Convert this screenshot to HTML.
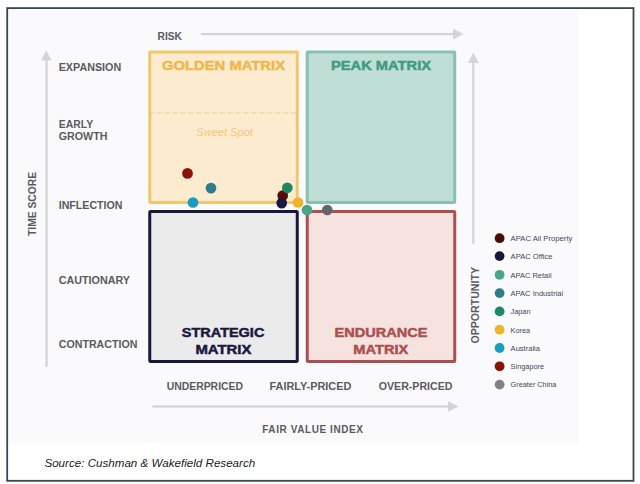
<!DOCTYPE html>
<html lang="en">
<head>
<meta charset="utf-8">
<title>Fair Value Index Matrix</title>
<style>
html,body{margin:0;padding:0;background:#fff;}
body{width:640px;height:484px;overflow:hidden;position:relative;font-family:"Liberation Sans",sans-serif;}
svg{position:absolute;left:0;top:0;display:block;}
.lab{font-family:"Liberation Sans",sans-serif;font-weight:bold;font-size:10px;fill:#5a5a5e;}
.ttl{font-family:"Liberation Sans",sans-serif;font-weight:bold;font-size:13.6px;stroke-width:0.5;paint-order:stroke fill;}
.leg{font-family:"Liberation Sans",sans-serif;font-size:7.8px;fill:#45455a;}
.src{font-family:"Liberation Sans",sans-serif;font-style:italic;font-size:11.8px;fill:#222222;}
</style>
</head>
<body>
<svg width="640" height="484" viewBox="0 0 640 484">
  <rect x="0" y="0" width="640" height="484" fill="#ffffff"/>
  <!-- chart background -->
  <rect x="7.5" y="8.5" width="570.8" height="435" fill="#fafafd"/>
  <!-- outer frame -->
  <rect x="7.2" y="8.1" width="626.3" height="472.7" fill="none" stroke="#33484f" stroke-width="1.8"/>

  <!-- axes arrows -->
  <g fill="#d4d4d6" stroke="none">
    <rect x="201" y="33" width="254" height="2.2"/>
    <polygon points="453,28.7 463.5,34.1 453,39.5"/>
    <rect x="45.4" y="59" width="2.3" height="308"/>
    <polygon points="41,60.5 46.3,50.5 51.7,60.5"/>
    <rect x="472.2" y="62" width="2.2" height="182"/>
    <polygon points="468,63 473.3,52.5 478.7,63"/>
    <rect x="152.5" y="405.4" width="297" height="2.2"/>
    <polygon points="448,401.2 458.5,406.5 448,411.8"/>
  </g>

  <!-- quadrants -->
  <rect x="149.75" y="52" width="147.5" height="150.5" fill="#fdebd0" stroke="#efc76c" stroke-width="3" rx="0.8"/>
  <rect x="307.25" y="52" width="147.5" height="150.5" fill="#bfded5" stroke="#89c1af" stroke-width="3" rx="0.8"/>
  <rect x="149.75" y="211.5" width="147.5" height="150" fill="#ebebec" stroke="#1a173f" stroke-width="3" rx="0.8"/>
  <rect x="307.25" y="211.5" width="147.5" height="150" fill="#f6e3df" stroke="#ad4f4f" stroke-width="3" rx="0.8"/>
  <line x1="151" y1="113.1" x2="296" y2="113.1" stroke="#eecb80" stroke-width="0.9" stroke-dasharray="5 2.9" stroke-dashoffset="2.2"/>

  <!-- quadrant titles -->
  <text class="ttl" x="223.5" y="70.4" text-anchor="middle" fill="#eeb84a" stroke="#eeb84a" textLength="123" lengthAdjust="spacingAndGlyphs">GOLDEN MATRIX</text>
  <text class="ttl" x="381" y="70.4" text-anchor="middle" fill="#3f9b82" stroke="#3f9b82" textLength="100" lengthAdjust="spacingAndGlyphs">PEAK MATRIX</text>
  <text class="ttl" x="223.1" y="337.4" text-anchor="middle" fill="#1a173f" stroke="#1a173f" textLength="82.5" lengthAdjust="spacingAndGlyphs">STRATEGIC</text>
  <text class="ttl" x="223.4" y="353.7" text-anchor="middle" fill="#1a173f" stroke="#1a173f" textLength="56" lengthAdjust="spacingAndGlyphs">MATRIX</text>
  <text class="ttl" x="381" y="337.4" text-anchor="middle" fill="#ad4f4f" stroke="#ad4f4f" textLength="93" lengthAdjust="spacingAndGlyphs">ENDURANCE</text>
  <text class="ttl" x="380.8" y="353.7" text-anchor="middle" fill="#ad4f4f" stroke="#ad4f4f" textLength="55" lengthAdjust="spacingAndGlyphs">MATRIX</text>
  <text x="224.6" y="135.5" text-anchor="middle" fill="#efc97a" textLength="56.5" lengthAdjust="spacingAndGlyphs" style="font-family:'Liberation Sans',sans-serif;font-style:italic;font-size:10.4px;">Sweet Spot</text>

  <!-- axis labels -->
  <text class="lab" x="157.5" y="39.5" textLength="24.5" lengthAdjust="spacingAndGlyphs">RISK</text>
  <text class="lab" x="58.7" y="70.5" textLength="62.5" lengthAdjust="spacingAndGlyphs">EXPANSION</text>
  <text class="lab" x="58.7" y="127.7" textLength="34.5" lengthAdjust="spacingAndGlyphs">EARLY</text>
  <text class="lab" x="58.7" y="140.3" textLength="48.8" lengthAdjust="spacingAndGlyphs">GROWTH</text>
  <text class="lab" x="58.7" y="209" textLength="63.8" lengthAdjust="spacingAndGlyphs">INFLECTION</text>
  <text class="lab" x="58.7" y="283.5" textLength="71.3" lengthAdjust="spacingAndGlyphs">CAUTIONARY</text>
  <text class="lab" x="58.7" y="347.5" textLength="78.8" lengthAdjust="spacingAndGlyphs">CONTRACTION</text>
  <text class="lab" x="166.7" y="390" textLength="76.3" lengthAdjust="spacingAndGlyphs">UNDERPRICED</text>
  <text class="lab" x="269.5" y="390" textLength="81.8" lengthAdjust="spacingAndGlyphs">FAIRLY-PRICED</text>
  <text class="lab" x="378.7" y="390" textLength="73.8" lengthAdjust="spacingAndGlyphs">OVER-PRICED</text>
  <text class="lab" x="262.2" y="432.9" textLength="100.7" lengthAdjust="spacing">FAIR VALUE INDEX</text>
  <text class="lab" style="font-size:11.2px" transform="translate(36.4 236) rotate(-90)" textLength="64" lengthAdjust="spacingAndGlyphs">TIME SCORE</text>
  <text class="lab" style="font-size:11.4px" transform="translate(479.1 343.6) rotate(-90)" textLength="76.6" lengthAdjust="spacingAndGlyphs">OPPORTUNITY</text>

  <!-- data points -->
  <g>
    <circle cx="282.7" cy="195.5" r="5.35" fill="#5a0c0a"/>
    <circle cx="281.7" cy="203.1" r="5.35" fill="#1a173f"/>
    <circle cx="307" cy="210" r="5.35" fill="#47a68a"/>
    <circle cx="211" cy="188.1" r="5.35" fill="#2e7c8c"/>
    <circle cx="287.3" cy="187.8" r="5.35" fill="#1a8a66"/>
    <circle cx="298" cy="202.5" r="5.35" fill="#f0b32c"/>
    <circle cx="193" cy="202.5" r="5.35" fill="#1b9bbd"/>
    <circle cx="187.5" cy="173.4" r="5.35" fill="#8a1208"/>
    <circle cx="327.3" cy="210" r="5.35" fill="#636568"/>
  </g>

  <!-- legend -->
  <g>
    <circle cx="499.6" cy="238.2" r="4.9" fill="#4a0b0b"/>
    <circle cx="499.6" cy="256.1" r="4.9" fill="#1a173f"/>
    <circle cx="499.6" cy="274.8" r="4.9" fill="#47a68a"/>
    <circle cx="499.6" cy="293.1" r="4.9" fill="#2e7c8c"/>
    <circle cx="499.6" cy="311.4" r="4.9" fill="#1a8a66"/>
    <circle cx="499.6" cy="329.7" r="4.9" fill="#f0b32c"/>
    <circle cx="499.6" cy="348" r="4.9" fill="#1b9bbd"/>
    <circle cx="499.6" cy="366.3" r="4.9" fill="#8a1208"/>
    <circle cx="499.6" cy="384.6" r="4.9" fill="#808285"/>
  </g>
  <g class="leg">
    <text x="510.6" y="241" textLength="61.8" lengthAdjust="spacingAndGlyphs">APAC All Property</text>
    <text x="510.6" y="259.3" textLength="41.85" lengthAdjust="spacingAndGlyphs">APAC Office</text>
    <text x="510.6" y="277.6" textLength="41" lengthAdjust="spacingAndGlyphs">APAC Retail</text>
    <text x="510.6" y="295.9" textLength="52.6" lengthAdjust="spacingAndGlyphs">APAC Industrial</text>
    <text x="510.6" y="314.2" textLength="19.9" lengthAdjust="spacingAndGlyphs">Japan</text>
    <text x="510.6" y="332.5" textLength="19.5" lengthAdjust="spacingAndGlyphs">Korea</text>
    <text x="510.6" y="350.8" textLength="29.4" lengthAdjust="spacingAndGlyphs">Australia</text>
    <text x="510.6" y="369.1" textLength="33.5" lengthAdjust="spacingAndGlyphs">Singapore</text>
    <text x="510.6" y="387.4" textLength="45.8" lengthAdjust="spacingAndGlyphs">Greater China</text>
  </g>

  <text class="src" x="44.4" y="467.1" textLength="210.8" lengthAdjust="spacingAndGlyphs">Source: Cushman &amp; Wakefield Research</text>
</svg>
</body>
</html>
